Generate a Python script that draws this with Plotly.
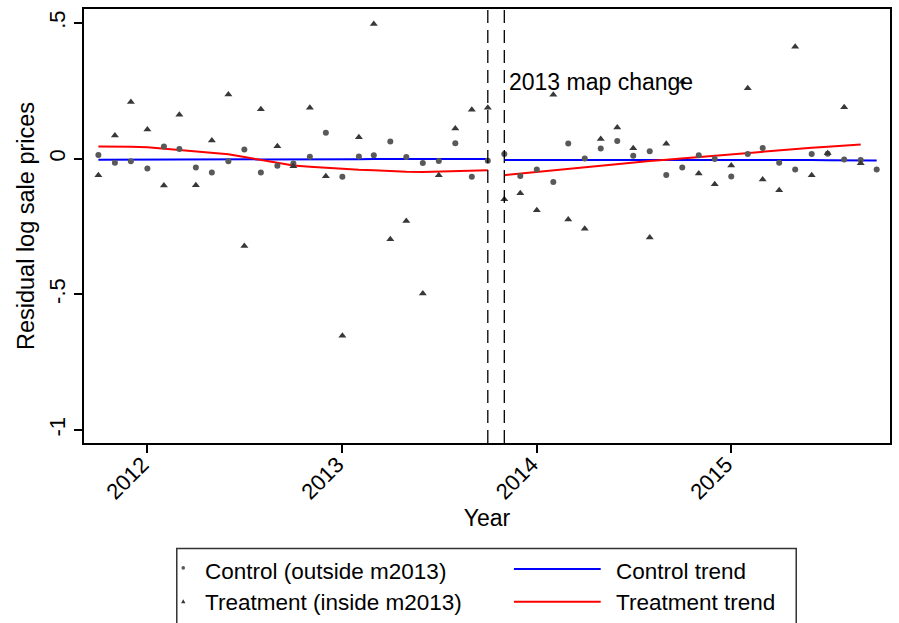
import pandas as pd
import plotly.graph_objects as go

# Monthly residual log sale prices, Oct 2011 - Oct 2015
months = pd.date_range("2011-10-01", "2015-10-01", freq="MS")

control = [0.013, -0.015, -0.010, -0.036, 0.045, 0.035, -0.033, -0.051, -0.010, 0.034,
           -0.051, -0.026, -0.018, 0.007, 0.095, -0.067, 0.008, 0.012, 0.063, 0.006,
           -0.016, -0.009, 0.057, -0.067, -0.008, 0.017, -0.064, -0.040, -0.086, 0.056,
           0.000, 0.037, 0.065, 0.011, 0.027, -0.060, -0.033, 0.012, -0.001, -0.066,
           0.017, 0.039, -0.015, -0.040, 0.017, 0.018, -0.003, -0.005, -0.040]

treatment = [-0.061, 0.085, 0.209, 0.107, -0.099, 0.162, -0.098, 0.067, 0.236, -0.322,
             0.182, 0.046, -0.028, 0.187, -0.065, -0.653, 0.079, 0.496, -0.297, -0.230,
             -0.497, -0.061, 0.111, 0.180, 0.187, -0.150, -0.128, -0.190, 0.235, -0.224,
             -0.258, 0.072, 0.115, 0.038, -0.291, 0.055, 0.283, -0.055, -0.094, -0.025,
             0.259, -0.077, -0.117, 0.412, -0.061, 0.020, 0.189, -0.017]

# Smoothed trends, fitted separately before and after the map change
control_trend_pre = [-0.004, -0.004, -0.004, -0.004, -0.004, -0.003, -0.003, -0.003, -0.003,
                     -0.003, -0.003, -0.002, -0.002, -0.002, -0.002, -0.002, -0.002, -0.001,
                     -0.001, -0.001, -0.001, -0.001, -0.001, -0.001, -0.001]
control_trend_post = [-0.005, -0.005, -0.004, -0.004, -0.004, -0.003, -0.003, -0.003, -0.003,
                      -0.003, -0.003, -0.003, -0.003, -0.003, -0.004, -0.004, -0.004, -0.005,
                      -0.005, -0.005, -0.006, -0.006, -0.006, -0.007]
treatment_trend_pre = [0.045, 0.045, 0.044, 0.042, 0.037, 0.030, 0.025, 0.021, 0.016, 0.006,
                       -0.004, -0.016, -0.025, -0.030, -0.034, -0.038, -0.041, -0.043, -0.046,
                       -0.048, -0.049, -0.048, -0.047, -0.045, -0.043]
treatment_trend_post = [-0.061, -0.055, -0.049, -0.043, -0.037, -0.031, -0.026, -0.020, -0.015,
                        -0.009, -0.004, 0.001, 0.007, 0.012, 0.017, 0.022, 0.027, 0.032,
                        0.036, 0.040, 0.044, 0.048, 0.052]

map_change_dates = ["2013-10-01", "2013-11-01"]
year_ticks = ["2012-01-01", "2013-01-01", "2014-01-01", "2015-01-01"]
year_labels = ["2012", "2013", "2014", "2015"]
y_ticks = [0.5, 0, -0.5, -1]
y_labels = [".5", "0", "-.5", "-1"]

FONT = "Liberation Sans, Arial, sans-serif"
W, H = 899, 623
ML, MR, MT, MB = 84, 7, 7, 180
PW, PH = W - ML - MR, H - MT - MB

def px(x):
    return (x - ML) / PW

def py(y):
    return (H - MB - y) / PH

n_pre = len(control_trend_pre)
pre = months[:n_pre]
post_c = months[n_pre:n_pre + len(control_trend_post)]
post_t = months[n_pre:n_pre + len(treatment_trend_post)]

fig = go.Figure()

blue = dict(color="#0000ff", width=2)
red = dict(color="#ff0000", width=2)
fig.add_trace(go.Scatter(x=pre, y=control_trend_pre, mode="lines", line=blue, showlegend=False))
fig.add_trace(go.Scatter(x=post_c, y=control_trend_post, mode="lines", line=blue, showlegend=False))
fig.add_trace(go.Scatter(x=pre, y=treatment_trend_pre, mode="lines", line=red, showlegend=False))
fig.add_trace(go.Scatter(x=post_t, y=treatment_trend_post, mode="lines", line=red, showlegend=False))

fig.add_trace(go.Scatter(x=months, y=control, mode="markers",
                         marker=dict(symbol="circle", size=6, color="#595959"),
                         showlegend=False))
fig.add_trace(go.Scatter(x=months[:len(treatment)], y=treatment, mode="markers",
                         marker=dict(symbol="triangle-up", size=7, color="#383838"),
                         showlegend=False))

# Map change window
for d in map_change_dates:
    fig.add_shape(type="line", xref="x", yref="paper", x0=d, x1=d, y0=0, y1=1,
                  line=dict(color="black", width=1.3, dash="13px,7px"))

fig.add_annotation(x=map_change_dates[1], y=0.283, xref="x", yref="y",
                   text="2013 map change", showarrow=False, xanchor="left",
                   yanchor="middle", xshift=3,
                   font=dict(family=FONT, size=23, color="black"))

# Legend box
fig.add_shape(type="rect", xref="paper", yref="paper",
              x0=px(177), x1=px(798), y0=py(549), y1=py(640),
              line=dict(color="#333333", width=1.5), fillcolor="white")

legend_rows = [
    ("Control (outside m2013)", "Control trend", "#0000ff", "circle", 569.5, 572),
    ("Treatment (inside m2013)", "Treatment trend", "#ff0000", "triangle", 602.5, 603),
]
for left_txt, right_txt, col, sym, ly, ty in legend_rows:
    if sym == "circle":
        fig.add_shape(type="circle", xref="paper", yref="paper",
                      xsizemode="pixel", ysizemode="pixel",
                      xanchor=px(183.5), yanchor=py(ly - 1),
                      x0=-1.8, x1=1.8, y0=-1.8, y1=1.8,
                      line=dict(width=0), fillcolor="#595959")
    else:
        fig.add_shape(type="path", xref="paper", yref="paper",
                      xsizemode="pixel", ysizemode="pixel",
                      xanchor=px(183.5), yanchor=py(ly),
                      path="M -2.2,-1.4 L 2.2,-1.4 L 0,2.4 Z",
                      line=dict(width=0), fillcolor="#383838")
    fig.add_annotation(x=px(203), y=py(ty), xref="paper", yref="paper",
                       text=left_txt, showarrow=False, xanchor="left", yanchor="middle",
                       font=dict(family=FONT, size=22.5, color="black"))
    fig.add_shape(type="line", xref="paper", yref="paper",
                  x0=px(515), x1=px(602), y0=py(ly), y1=py(ly),
                  line=dict(color=col, width=2))
    fig.add_annotation(x=px(615), y=py(ty), xref="paper", yref="paper",
                       text=right_txt, showarrow=False, xanchor="left", yanchor="middle",
                       font=dict(family=FONT, size=22.5, color="black"))

fig.update_layout(
    width=W, height=H,
    margin=dict(l=ML, r=MR, t=MT, b=MB),
    paper_bgcolor="white", plot_bgcolor="white",
    font=dict(family=FONT, size=22, color="black"),
    showlegend=False,
)

fig.update_xaxes(
    type="date",
    range=["2011-09-04", "2015-10-26"],
    tickvals=year_ticks, ticktext=year_labels, tickangle=-45,
    ticks="outside", ticklen=8, tickwidth=1.5, tickcolor="black",
    ticklabelstandoff=-10, ticklabelshift=-5,
    showgrid=False, zeroline=False,
    showline=True, linewidth=2, linecolor="black", mirror=True,
    title=dict(text="Year", font=dict(family=FONT, size=23), standoff=7),
)
fig.update_yaxes(
    range=[-1.0477, 0.5512],
    tickvals=y_ticks, ticktext=y_labels, tickangle=-90,
    ticks="outside", ticklen=8, tickwidth=1.5, tickcolor="black",
    showgrid=False, zeroline=False,
    showline=True, linewidth=2, linecolor="black", mirror=True,
    title=dict(text="Residual log sale prices", font=dict(family=FONT, size=23.5), standoff=4),
)

fig.write_html("out.html")
